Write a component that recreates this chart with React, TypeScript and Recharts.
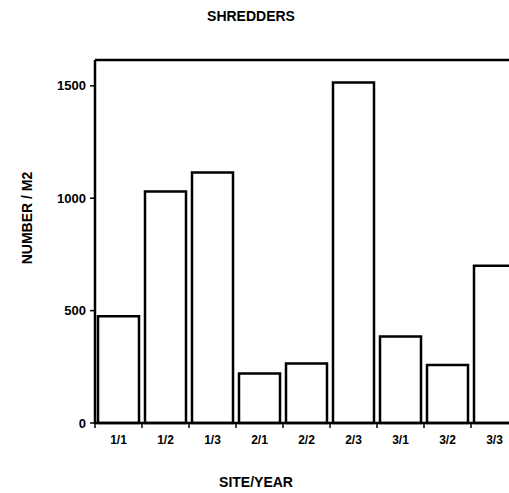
import React from 'react';
import { BarChart, Bar, XAxis, YAxis, ReferenceLine } from 'recharts';

const siteYears = ['1/1', '1/2', '1/3', '2/1', '2/2', '2/3', '3/1', '3/2', '3/3'];
const shredders = [475, 1030, 1115, 220, 265, 1515, 385, 258, 700];
const yTicks = [0, 500, 1000, 1500];

const data = siteYears.map((s, i) => ({ site: s, value: shredders[i] }));

const font = '"Liberation Sans", Arial, sans-serif';

const SiteTick = (props: any) => {
  const { x, y, payload } = props;
  const half = 23.5;
  return (
    <g>
      <line x1={x - half} y1={y} x2={x - half} y2={y + 5} stroke="#000" strokeWidth={1.5} />
      <text x={x} y={y + 21} textAnchor="middle" fontSize={12} fontWeight="bold" fontFamily={font} fill="#000">
        {payload.value}
      </text>
    </g>
  );
};

export default function App() {
  return (
    <div style={{ position: 'absolute', left: 0, top: 0, width: 509, height: 493, overflow: 'hidden', background: '#fff', fontFamily: font }}>
      <div style={{ position: 'absolute', left: 0, width: 502, top: 9, textAlign: 'center', fontSize: 14, lineHeight: '14px', fontWeight: 'bold' }}>
        SHREDDERS
      </div>
      <div style={{ position: 'absolute', left: 0, width: 512, top: 475, textAlign: 'center', fontSize: 14, lineHeight: '14px', fontWeight: 'bold' }}>
        SITE/YEAR
      </div>
      <div style={{ position: 'absolute', left: 27 - 60, top: 218 - 7, width: 120, textAlign: 'center', fontSize: 14, lineHeight: '14px', fontWeight: 'bold', transform: 'rotate(-90deg)' }}>
        NUMBER / M2
      </div>
      <BarChart
        width={540}
        height={493}
        data={data}
        margin={{ top: 60, right: 22, bottom: 40, left: 0 }}
        barCategoryGap={3}
      >
        <XAxis
          dataKey="site"
          height={30}
          tickLine={false}
          tickSize={0}
          tickMargin={0}
          axisLine={{ stroke: '#000', strokeWidth: 2.5 }}
          tick={<SiteTick />}
          interval={0}
        />
        <YAxis
          width={95}
          domain={[0, 1615]}
          ticks={yTicks}
          tickSize={5}
          tickMargin={4}
          axisLine={{ stroke: '#000', strokeWidth: 2.5 }}
          tickLine={{ stroke: '#000', strokeWidth: 1.5 }}
          tick={{ fill: '#000', fontSize: 13, fontWeight: 'bold', fontFamily: font }}
        />
        <ReferenceLine y={1615} stroke="#000" strokeWidth={2.5} />
        <Bar dataKey="value" fill="#fff" stroke="#000" strokeWidth={2.5} isAnimationActive={false} />
      </BarChart>
    </div>
  );
}
